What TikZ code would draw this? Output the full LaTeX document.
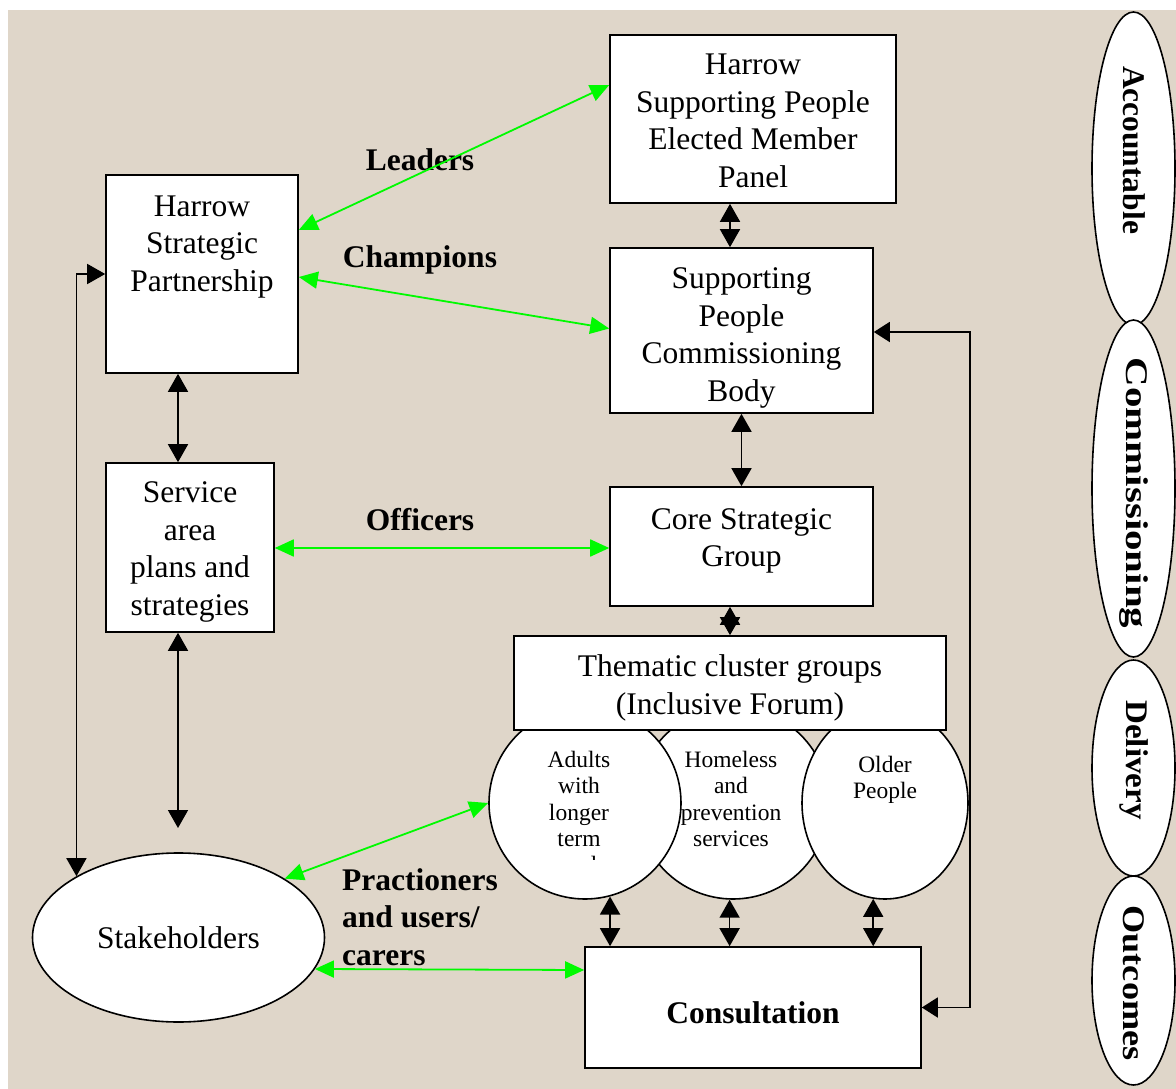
\documentclass[tikz,border=0pt]{standalone}
\usepackage{fontspec}
\setmainfont{Liberation Serif}
\usetikzlibrary{arrows.meta,shapes.geometric}
\definecolor{bgc}{RGB}{223,214,201}
\definecolor{lime}{RGB}{0,250,0}
\begin{document}
\begin{tikzpicture}[x=1pt,y=-1pt,
  box/.style={draw=black, line width=1.6pt, fill=white, rectangle, inner sep=0pt},
  txt/.style={inner sep=0pt, align=center, font=\fontsize{31.5}{37.5}\selectfont},
  lbl/.style={inner sep=0pt, align=left, font=\fontsize{31.5}{37.5}\selectfont\bfseries},
  small/.style={inner sep=0pt, align=center, font=\fontsize{23.5}{26.2}\selectfont},
  circ/.style={draw=black, line width=1.6pt, fill=white, ellipse, inner sep=0pt},
  side/.style={draw=black, line width=1.6pt, fill=white, ellipse, inner sep=0pt, minimum width=83pt},
  sidetxt/.style={inner sep=0pt, rotate=-90, font=\fontsize{31.5}{37.5}\selectfont\bfseries},
  blk/.style={draw=black, line width=1.6pt, {Triangle[length=18pt,width=20pt]}-{Triangle[length=18pt,width=20pt]}},
  grn/.style={draw=lime, line width=1.8pt, {Triangle[length=19pt,width=17pt]}-{Triangle[length=19pt,width=17pt]}}
]
\useasboundingbox (0,0) rectangle (1176,1089);
\fill[white] (0,0) rectangle (1176,1089);
\fill[bgc] (8,10) rectangle (1176,1089);

% side ellipses
\node[side, minimum height=313pt] (acc) at (1133.5,168.5) {};
\node[side, minimum height=337pt] (com) at (1133.5,488.5) {};
\node[side, minimum height=216pt] (del) at (1133.5,768) {};
\node[side, minimum height=209pt] (out) at (1133.5,980.5) {};
\node[sidetxt] (accT) at (1134,150) {Accountable};
\node[sidetxt] (comT) at (1134,493) {\scalebox{1.3}[1]{Commissioning}};
\node[sidetxt] (delT) at (1134,760) {\scalebox{1.05}[1]{Delivery}};
\node[sidetxt] (outT) at (1134,983) {\scalebox{1.15}[1]{Outcomes}};

% boxes
\node[box, minimum width=286pt, minimum height=168pt] (panel) at (753,119) {};
\node[box, minimum width=263pt, minimum height=165pt] (comm) at (741.5,330.5) {};
\node[box, minimum width=263pt, minimum height=119pt] (core) at (741.5,546.5) {};
\node[box, minimum width=192pt, minimum height=198pt] (hsp) at (202,274) {};
\node[box, minimum width=168pt, minimum height=169pt] (serv) at (190,547.5) {};
\node[box, minimum width=336pt, minimum height=121pt] (cons) at (753,1007.5) {};

\node[txt] (panelT) at (753,121) {Harrow\\Supporting People\\Elected Member\\Panel};
\node[txt] (commT) at (741.5,338) {Supporting\\People\\Commissioning\\Body};
\node[txt] (coreT) at (741.5,541) {Core Strategic\\Group};
\node[txt] (hspT) at (202,247) {Harrow\\Strategic\\Partnership};
\node[txt] (servT) at (190,552) {Service\\area\\plans and\\strategies};
\node[txt, font=\fontsize{31.5}{37.5}\selectfont\bfseries] (consT) at (753,1013) {Consultation};

% circles
\node[circ, minimum width=192pt, minimum height=192pt] (homeless) at (733,803) {};
\node[circ, minimum width=192pt, minimum height=192pt] (adults) at (585,803) {};
\node[circ, minimum width=166pt, minimum height=192pt] (older) at (885,803) {};
\begin{scope}
\clip (480,700) rectangle (690,859);
\node[small] (adultsT) at (579,812) {Adults\\with\\longer\\term\\needs};
\end{scope}
\node[small] (homelessT) at (731,799) {Homeless\\and\\prevention\\services};
\node[small] (olderT) at (885,780) {Older\\People};

\node[box, minimum width=432pt, minimum height=94pt] (them) at (730,683) {};
\node[txt] (themT) at (730,688) {Thematic cluster groups\\(Inclusive Forum)};

% stakeholders
\node[circ, minimum width=292pt, minimum height=169pt, font=\fontsize{31.5}{37.5}\selectfont] (stake) at (178.5,937.5) {Stakeholders};

% labels
\node[lbl] (leaders) at (420,160) {Leaders};
\node[lbl] (champ) at (420,260) {Champions};
\node[lbl] (officers) at (420,520) {Officers};
\node[lbl, anchor=west] (pract) at (342,917) {Practioners\\and users/\\carers};

% black connectors
\draw[blk] ([xshift=-23pt]panel.south) -- ([xshift=-11.5pt]comm.north);
\draw[blk] (comm.south) -- (core.north);
\draw[blk] ([xshift=-11.5pt]core.south) -- (them.north);
\draw[blk] ([xshift=-24pt]hsp.south) -- ([xshift=-12pt]serv.north);
\coordinate (sfree) at (178,828);
\draw[blk] ([xshift=-12pt]serv.south) -- (sfree);
\draw[blk] (stake.149.5) |- (hsp.west);
\draw[blk] (adults.-75) -- (adults.-75 |- cons.north);
\draw[blk] (homeless.-92) -- (homeless.-92 |- cons.north);
\draw[blk] (older.-97) -- (older.-97 |- cons.north);
\draw[draw=black, line width=1.6pt, {Triangle[length=16pt,width=20pt]}-{Triangle[length=16pt,width=20pt]}]
  (cons.east) -- ++(48pt,0) |- ([yshift=-1.5pt]comm.east);

% green connectors
\draw[grn] ([yshift=44pt]hsp.east) -- ([yshift=34pt]panel.west);
\draw[grn] ([yshift=-3pt]hsp.east) -- ([yshift=2pt]comm.west);
\draw[grn] ([yshift=-0.5pt]serv.east) -- ([yshift=-0.5pt]serv.east -| core.west);
\draw[grn] (stake.29) -- (adults.180);
\draw[grn] (stake.-13) -- ([yshift=37.5pt]cons.west);
\end{tikzpicture}
\end{document}
